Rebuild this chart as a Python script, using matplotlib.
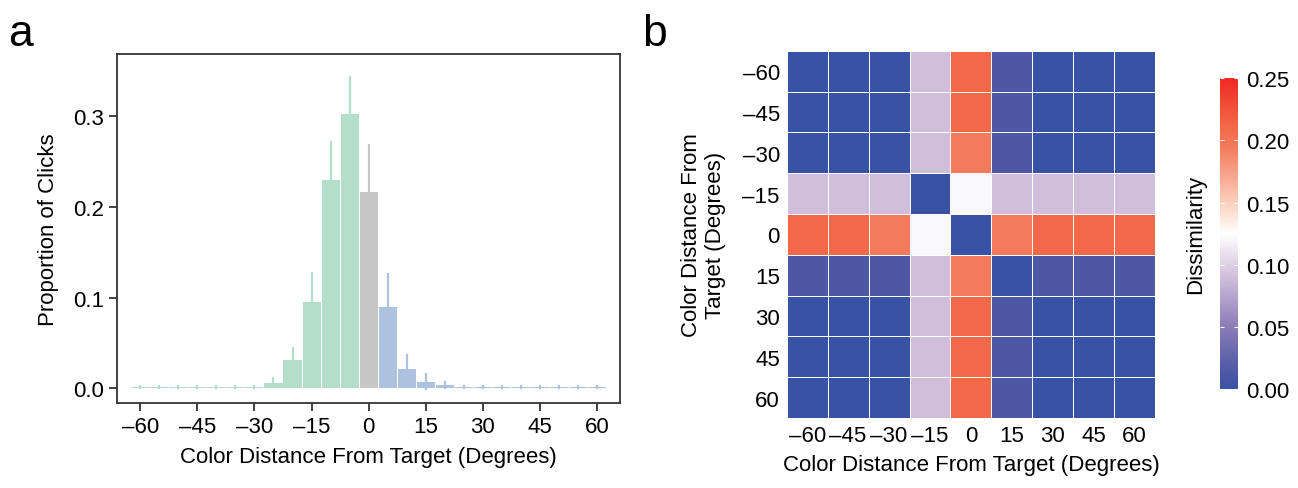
import numpy as np
import matplotlib
matplotlib.use("Agg")
import matplotlib.pyplot as plt
from matplotlib.colors import LinearSegmentedColormap

plt.rcParams['font.family'] = ['Liberation Sans Narrow', 'Liberation Sans', 'DejaVu Sans']

# panel a: histogram of click distances
bin_centers = [-60, -55, -50, -45, -40, -35, -30, -25, -20, -15, -10, -5, 0,
               5, 10, 15, 20, 25, 30, 35, 40, 45, 50, 55, 60]
proportion = [0.0013, 0.0013, 0.0013, 0.0013, 0.0013, 0.0013, 0.002, 0.0066,
              0.031, 0.095, 0.230, 0.302, 0.2165, 0.0897, 0.022, 0.0077,
              0.0037, 0.002, 0.0013, 0.002, 0.0013, 0.0013, 0.0013, 0.0013, 0.0013]
error = [0.001, 0.001, 0.001, 0.001, 0.001, 0.001, 0.0012, 0.0048,
         0.014, 0.032, 0.042, 0.041, 0.0515, 0.037, 0.015, 0.008,
         0.0037, 0.0012, 0.001, 0.0012, 0.001, 0.001, 0.001, 0.001, 0.001]
hist_ticks = [-60, -45, -30, -15, 0, 15, 30, 45, 60]

# panel b: dissimilarity matrix
heat_labels = [-60, -45, -30, -15, 0, 15, 30, 45, 60]
dissim = np.array([
    [0.0, 0.0, 0.0, 0.09, 0.212, 0.012, 0.0, 0.0, 0.0],
    [0.0, 0.0, 0.0, 0.09, 0.212, 0.012, 0.0, 0.0, 0.0],
    [0.0, 0.0, 0.0, 0.09, 0.195, 0.012, 0.0, 0.0, 0.0],
    [0.09, 0.09, 0.09, 0.0, 0.122, 0.09, 0.09, 0.09, 0.09],
    [0.212, 0.212, 0.195, 0.122, 0.0, 0.195, 0.212, 0.212, 0.212],
    [0.012, 0.012, 0.012, 0.09, 0.195, 0.0, 0.012, 0.012, 0.012],
    [0.0, 0.0, 0.0, 0.09, 0.212, 0.012, 0.0, 0.0, 0.0],
    [0.0, 0.0, 0.0, 0.09, 0.212, 0.012, 0.0, 0.0, 0.0],
    [0.0, 0.0, 0.0, 0.09, 0.212, 0.012, 0.0, 0.0, 0.0],
])
cbar_ticks = [0.0, 0.05, 0.10, 0.15, 0.20, 0.25]

cmap = LinearSegmentedColormap.from_list('bwr_paper', [
    (0.0, '#3953a4'), (0.05, '#4e57a4'), (0.2, '#8a7cb8'), (0.36, '#d0bedb'),
    (0.5, '#ffffff'), (0.6, '#fcd0bd'), (0.78, '#f37a5c'), (0.85, '#f26848'),
    (1.0, '#ee2a24')])

fig = plt.figure(figsize=(12.98, 4.89), dpi=100)
fs = 16

# ---- a ----
ax = fig.add_axes([0.0904, 0.1738, 0.3873, 0.7137])
cols = ['#b3dfca' if c < 0 else ('#c6c6c6' if c == 0 else '#adc2de') for c in bin_centers]
ax.bar(bin_centers, proportion, width=4.75, color=cols, linewidth=0, zorder=2)
for c, p, e, col in zip(bin_centers, proportion, error, cols):
    ax.plot([c, c], [p - e, p + e], color=col, lw=1.6, zorder=3)
ax.set_xlim(-66, 66)
ax.set_ylim(-0.016, 0.3686)
ax.set_xticks(hist_ticks)
ax.set_xticklabels([('\u2013' + str(-t)) if t < 0 else str(t) for t in hist_ticks])
ax.set_yticks([0.0, 0.1, 0.2, 0.3])
ax.set_yticklabels(['0.0', '0.1', '0.2', '0.3'])
ax.tick_params(direction='out', length=6, width=1.2, labelsize=fs, colors='#222222', labelcolor='black')
for s in ax.spines.values():
    s.set_linewidth(1.3)
    s.set_color('#333333')
ax.set_xlabel('Color Distance From Target (Degrees)', fontsize=fs, labelpad=6)
ax.set_ylabel('Proportion of Clicks', fontsize=fs, labelpad=10)
fig.text(0.006, 0.905, 'a', fontsize=32)

# ---- b ----
hx = fig.add_axes([0.6061, 0.1431, 0.2838, 0.7511])
hx.pcolormesh(dissim, cmap=cmap, vmin=0, vmax=0.25, edgecolors='white', linewidth=0.7)
hx.set_xlim(0, 9)
hx.set_ylim(9, 0)
hx.set_xticks(np.arange(9) + 0.5)
hx.set_yticks(np.arange(9) + 0.5)
lab = [('\u2013' + str(-t)) if t < 0 else str(t) for t in heat_labels]
hx.set_xticklabels(lab)
hx.set_yticklabels(lab)
hx.tick_params(length=0, labelsize=fs, pad=5)
for s in hx.spines.values():
    s.set_visible(False)
hx.set_xlabel('Color Distance From Target (Degrees)', fontsize=fs, labelpad=6)
hx.set_ylabel('Color Distance From\nTarget (Degrees)', fontsize=fs, labelpad=12)
fig.text(0.495, 0.905, 'b', fontsize=32)

cax = fig.add_axes([0.9399, 0.2025, 0.01387, 0.6354])
sm = plt.cm.ScalarMappable(cmap=cmap, norm=plt.Normalize(0, 0.25))
cb = fig.colorbar(sm, cax=cax)
cb.outline.set_visible(False)
cb.set_ticks(cbar_ticks)
cb.set_ticklabels(['%.2f' % t for t in cbar_ticks])
cax.tick_params(length=3, width=0.8, color='white', direction='in', labelsize=fs, pad=6, left=True)
cax.yaxis.set_label_position('left')
cax.set_ylabel('Dissimilarity', fontsize=fs, labelpad=10)

fig.savefig('out.png', dpi=100)
